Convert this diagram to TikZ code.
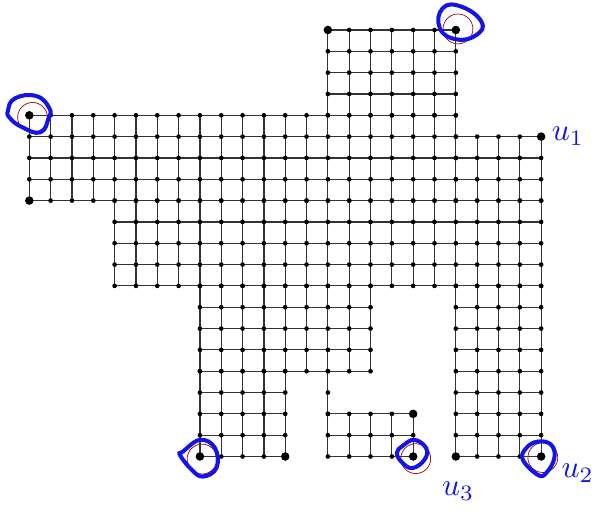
\documentclass[tikz,border=0pt]{standalone}
\usepackage{graphicx}
\usepackage{tikz}
\definecolor{penblue}{HTML}{1414E6}
\definecolor{ringred}{HTML}{9A1010}
\newcommand{\penname}[2]{\scalebox{4.2}{$#1_{#2}$}}

\begin{document}
\begin{tikzpicture}[x=1cm,y=-1cm,
  gridedge/.style={line width=1.6pt,color=black!80},
  ring/.style={line width=1pt,color=ringred},
  pen/.style={line width=5.4pt,color=penblue,line cap=round,line join=round},
  penlabel/.style={text=penblue,inner sep=0pt,anchor=base west}]
\useasboundingbox (-1.375,-1.406) rectangle (26.76,23.44);

% grid blocks: first col/row to last col/row
\foreach \ca/\ra/\cb/\rb in {14/0/20/4,0/4/20/8,20/5/24/8,4/8/24/12,8/12/16/16,8/16/12/20,14/16/14/18,14/18/18/20,20/12/24/20}{
  \foreach \c in {\ca,...,\cb}
    \foreach \r in {\ra,...,\rb}
      \coordinate (v-\c-\r) at (\c,\r);
  \foreach \r in {\ra,...,\rb}
    \draw[gridedge] (v-\ca-\r) -- (v-\cb-\r);
  \foreach \c in {\ca,...,\cb}
    \draw[gridedge] (v-\c-\ra) -- (v-\c-\rb);
}
\foreach \ca/\ra/\cb/\rb in {14/0/20/4,0/4/20/8,20/5/24/8,4/8/24/12,8/12/16/16,8/16/12/20,14/16/14/18,14/18/18/20,20/12/24/20}{
  \foreach \c in {\ca,...,\cb}
    \foreach \r in {\ra,...,\rb}
      \fill (v-\c-\r) circle (0.11);
}
% corner vertices
\foreach \p in {0-4,0-8,14-0,20-0,24-5,8-20,12-20,18-18,18-20,20-20,24-20}
  \fill (v-\p) circle (0.2);

% red rings
\foreach \p/\dx/\dy in {0-4/0.15/0.1,20-0/0.1/-0.05,8-20/0.1/0.12,18-20/0.12/0.1,24-20/0.08/0.05}
  \draw[ring] (v-\p) ++(\dx,\dy) circle (0.7);

% hand-drawn loops
\begin{scope}[shift={(v-0-4)}]
  \draw[pen] plot[smooth cycle,tension=0.8] coordinates {(-0.66,-0.8) (0.33,-0.9) (0.94,-0.33) (0.9,0.14) (0.52,0.8) (-0.33,0.56) (-0.9,0.14) (-1,-0.23)};
\end{scope}
\begin{scope}[shift={(v-20-0)}]
  \draw[pen] plot[smooth cycle,tension=0.8] coordinates {(-0.61,-1.03) (0.27,-1.09) (1.2,-0.39) (0.97,0.23) (0.03,0.44) (-0.75,-0.08)};
\end{scope}
\begin{scope}[shift={(v-8-20)}]
  \draw[pen] plot[smooth cycle,tension=0.7] coordinates {(0,-0.78) (0.7,-0.41) (0.78,0.53) (0.14,0.94) (-0.39,0.62) (-0.94,-0.08) (-0.8,-0.23)};
\end{scope}
\begin{scope}[shift={(v-18-20)}]
  \draw[pen] plot[smooth cycle,tension=0.7] coordinates {(0.06,-0.78) (0.61,-0.39) (0.53,0.15) (-0.02,0.54) (-0.49,0.31) (-0.77,-0.16) (-0.49,-0.5)};
\end{scope}
\begin{scope}[shift={(v-24-20)}]
  \draw[pen] plot[smooth cycle,tension=0.7] coordinates {(-0.16,-0.7) (0.47,-0.55) (0.62,0.08) (0.23,0.78) (-0.16,0.86) (-0.86,0.15) (-0.7,-0.39)};
\end{scope}

% labels
\node[penlabel] (u1) at (24.5,5.2) {\penname{u}{1}};
\node[penlabel] (u2) at (24.95,21.0) {\penname{u}{2}};
\node[penlabel] (u3) at (19.35,21.85) {\penname{u}{3}};
\end{tikzpicture}
\end{document}
